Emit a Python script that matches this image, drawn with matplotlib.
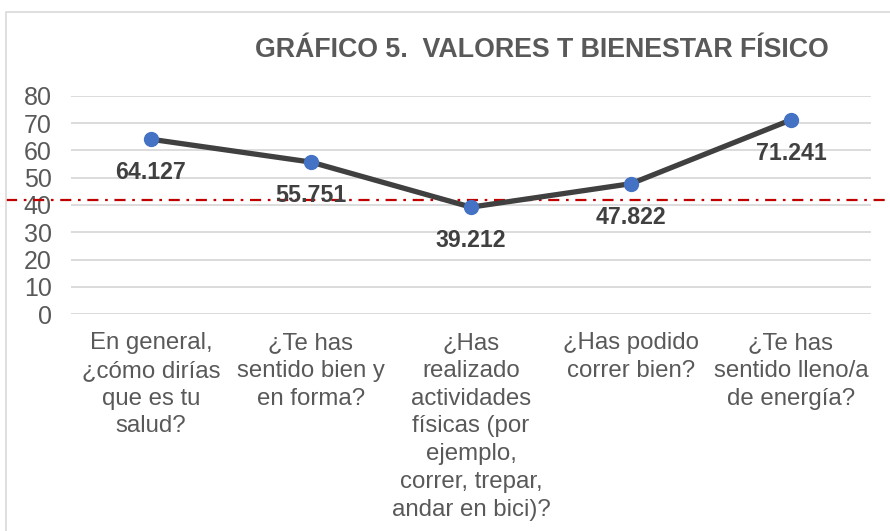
import matplotlib
matplotlib.use("Agg")
import matplotlib.pyplot as plt
from matplotlib.patches import Rectangle

categories = [
    "En general,\n¿cómo dirías\nque es tu\nsalud?",
    "¿Te has\nsentido bien y\nen forma?",
    "¿Has\nrealizado\nactividades\nfísicas (por\nejemplo,\ncorrer, trepar,\nandar en bici)?",
    "¿Has podido\ncorrer bien?",
    "¿Te has\nsentido lleno/a\nde energía?",
]
values = [64.127, 55.751, 39.212, 47.822, 71.241]
value_labels = ["64.127", "55.751", "39.212", "47.822", "71.241"]
yticks = [0, 10, 20, 30, 40, 50, 60, 70, 80]
reference_value = 42
title = "GRÁFICO 5.  VALORES T BIENESTAR FÍSICO"

plt.rcParams['font.family'] = ['Liberation Sans', 'DejaVu Sans']

W, H = 890, 531
fig = plt.figure(figsize=(W / 100, H / 100), dpi=100)
ax = fig.add_axes([71 / W, 1 - 314 / H, 800 / W, (314 - 96) / H])

# chart frame
fig.add_artist(Rectangle((6 / W, -0.1), 1.2, 1 - 12 / H + 0.1, transform=fig.transFigure,
                         fill=False, edgecolor='#D9D9D9', linewidth=1.2))

x = list(range(len(categories)))
ax.set_xlim(-0.5, len(categories) - 0.5)
ax.set_ylim(0, 80)
ax.set_yticks(yticks)
ax.set_yticklabels([str(t) for t in yticks], fontsize=18, color='#595959')
ax.set_xticks(x)
ax.set_xticklabels(categories, fontsize=17.3, color='#595959', linespacing=1.34, va='top')
ax.tick_params(axis='both', length=0)
ax.tick_params(axis='y', pad=14)
ax.tick_params(axis='x', pad=13)
for s in ax.spines.values():
    s.set_visible(False)
ax.grid(axis='y', color='#D9D9D9', linewidth=1.3)
ax.set_axisbelow(True)

ax.plot(x, values, color='#404040', linewidth=3.8, marker='o', markersize=10,
        markerfacecolor='#4472C4', markeredgecolor='#4472C4', zorder=3)

for xi, v, lab in zip(x, values, value_labels):
    ax.annotate(lab, (xi, v), xytext=(0, -24), textcoords='offset points',
                ha='center', va='center', fontsize=16.7, fontweight='bold', color='#404040', zorder=4)

ax.axhline(reference_value, xmin=(6 - 71) / 800, xmax=(890 - 71) / 800, clip_on=False,
           color='#C00000', linewidth=1.6, linestyle=(0, (5, 3, 1.2, 3)), zorder=2)

fig.text(542 / W, 1 - 50 / H, title, ha='center', va='center', fontsize=19.3,
         fontweight='bold', color='#595959')

fig.savefig('out.png', dpi=100)
